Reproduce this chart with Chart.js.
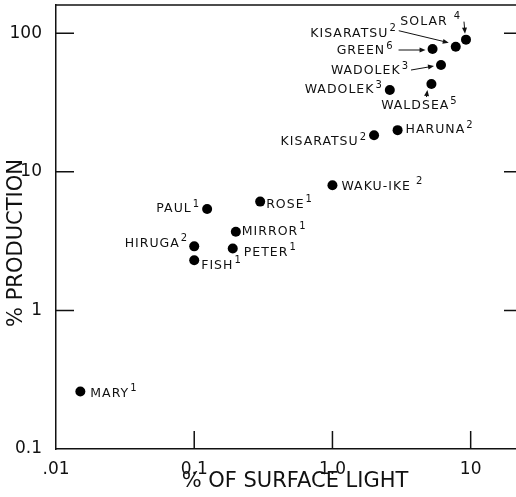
<!DOCTYPE html>
<html lang="en">
<head>
<meta charset="utf-8" />
<title>% production vs % of surface light</title>
<script src="https://cdn.jsdelivr.net/npm/chart.js@4.4.0/dist/chart.umd.min.js"></script>
<style>
  html, body { margin: 0; padding: 0; background: #fff; overflow: hidden; }
  .wrap { width: 523px; height: 497px; }
</style>
</head>
<body>
<div class="wrap"><canvas id="chart" width="523" height="497"></canvas></div>
<script>
// values
const lakes = ['MARY', 'FISH', 'HIRUGA', 'PAUL', 'PETER', 'MIRROR', 'ROSE', 'WAKU-IKE',
  'KISARATSU', 'HARUNA', 'WADOLEK', 'WALDSEA', 'WADOLEK', 'GREEN', 'KISARATSU', 'SOLAR'];
const refs = ['1', '1', '2', '1', '1', '1', '1', '2', '2', '2', '3', '5', '3', '6', '2', '4'];
const surfaceLight = [0.015, 0.1, 0.1, 0.124, 0.19, 0.2, 0.3, 1.0, 2.0, 2.96, 2.6, 5.2, 6.1, 5.3, 7.8, 9.25];
const production = [0.26, 2.3, 2.9, 5.4, 2.8, 3.7, 6.1, 8.0, 18.4, 20, 39, 43, 59, 77, 80, 90];

const xTicks = [0.01, 0.1, 1, 10];
const xTickLabels = ['.01', '0.1', '1.0', '10'];
const yTicks = [0.1, 1, 10, 100];
const yTickLabels = ['0.1', '1', '10', '100'];

const FONT = 'DejaVu Sans';

// where each name sits relative to its dot: [align, dx, dy, gap before superscript]
const labelPlace = [
  ['left', 10, 2, 1], ['left', 7, 5, 1], ['right', -6, -3, 1], ['right', -7, 0, 1],
  ['left', 11, 4, 1], ['left', 6, 0, 1], ['left', 6, 3, 1], ['left', 9, 1, 5],
  ['right', -7, 7, 1], ['left', 8, 0, 1], ['right', -7, 0, 1], ['center', -12, 22, 1],
  ['right', -32, 6, 1], ['right', -39, 2, 1], ['right', -59, -13, 1], ['right', -5, -18, 6]
];
// arrows from label to dot, relative to the dot
const arrows = {
  11: [-5, 13, -4, 6],
  12: [-30, 5, -7, 1],
  13: [-34, 1, -7, 1],
  14: [-57, -16, -7, -4],
  15: [-2, -18, -1, -6]
};

function drawLabel(ctx, name, sup, x, y, align, gap) {
  ctx.letterSpacing = '1px';
  ctx.font = '12.5px "' + FONT + '"';
  const w1 = ctx.measureText(name).width;
  ctx.font = '10px "' + FONT + '"';
  const w2 = ctx.measureText(sup).width;
  const total = w1 + gap + w2;
  let sx = x;
  if (align === 'right') sx = x - total;
  if (align === 'center') sx = x - total / 2;
  ctx.textAlign = 'left';
  ctx.textBaseline = 'middle';
  ctx.font = '12.5px "' + FONT + '"';
  ctx.fillText(name, sx, y);
  ctx.font = '10px "' + FONT + '"';
  ctx.fillText(sup, sx + w1 + gap, y - 5);
  ctx.letterSpacing = '0px';
}

function drawArrow(ctx, x1, y1, x2, y2) {
  const a = Math.atan2(y2 - y1, x2 - x1);
  ctx.beginPath();
  ctx.moveTo(x1, y1);
  ctx.lineTo(x2 - 3 * Math.cos(a), y2 - 3 * Math.sin(a));
  ctx.stroke();
  ctx.beginPath();
  ctx.moveTo(x2, y2);
  ctx.lineTo(x2 - 6 * Math.cos(a) + 2.5 * Math.sin(a), y2 - 6 * Math.sin(a) - 2.5 * Math.cos(a));
  ctx.lineTo(x2 - 6 * Math.cos(a) - 2.5 * Math.sin(a), y2 - 6 * Math.sin(a) + 2.5 * Math.cos(a));
  ctx.closePath();
  ctx.fill();
}

const decor = {
  id: 'decor',
  afterDraw(chart) {
    const ctx = chart.ctx;
    const area = chart.chartArea;
    const xs = chart.scales.x, ys = chart.scales.y;
    ctx.save();
    ctx.strokeStyle = '#111';
    ctx.fillStyle = '#111';
    ctx.lineWidth = 1.5;

    // top frame line
    ctx.beginPath();
    ctx.moveTo(area.left, area.top);
    ctx.lineTo(area.right, area.top);
    ctx.stroke();

    // inward tick marks
    yTicks.slice(1).forEach(v => {
      const py = ys.getPixelForValue(v);
      ctx.beginPath();
      ctx.moveTo(area.left, py); ctx.lineTo(area.left + 18, py);
      ctx.moveTo(area.right, py); ctx.lineTo(area.right - 14, py);
      ctx.stroke();
    });
    xTicks.slice(1).forEach(v => {
      const px = xs.getPixelForValue(v);
      ctx.beginPath();
      ctx.moveTo(px, area.bottom); ctx.lineTo(px, area.bottom - 18);
      ctx.stroke();
    });

    // point names with reference numbers
    ctx.lineWidth = 1;
    lakes.forEach((name, i) => {
      const px = xs.getPixelForValue(surfaceLight[i]);
      const py = ys.getPixelForValue(production[i]);
      const p = labelPlace[i];
      drawLabel(ctx, name, refs[i], px + p[1], py + p[2], p[0], p[3]);
      const ar = arrows[i];
      if (ar) drawArrow(ctx, px + ar[0], py + ar[1], px + ar[2], py + ar[3]);
    });

    // axis titles
    ctx.font = '21px "' + FONT + '"';
    ctx.textAlign = 'center';
    ctx.textBaseline = 'middle';
    ctx.fillText('% OF SURFACE LIGHT', 295, 482);
    ctx.translate(17, 243);
    ctx.rotate(-Math.PI / 2);
    ctx.fillText('% PRODUCTION', 0, 0);
    ctx.restore();
  }
};

new Chart(document.getElementById('chart'), {
  type: 'scatter',
  data: {
    datasets: [{
      data: surfaceLight.map((x, i) => ({ x: x, y: production[i] })),
      pointRadius: 5,
      pointHoverRadius: 5,
      backgroundColor: '#000',
      borderColor: '#000',
      borderWidth: 0
    }]
  },
  options: {
    responsive: false,
    animation: false,
    devicePixelRatio: 1,
    layout: { padding: { top: 5, right: 1, left: 0, bottom: 0 } },
    plugins: { legend: { display: false }, tooltip: { enabled: false } },
    scales: {
      x: {
        type: 'logarithmic',
        min: 0.01,
        max: 22,
        afterBuildTicks: s => { s.ticks = xTicks.map(v => ({ value: v })); },
        afterFit: s => { s.height = 48; s.paddingLeft = 0; s.paddingRight = 0; },
        ticks: {
          callback: (v, i) => xTickLabels[i],
          font: { family: FONT, size: 17 },
          color: '#111',
          padding: 2,
          maxRotation: 0,
          autoSkip: false
        },
        grid: { display: false },
        border: { display: true, color: '#111', width: 1.5 }
      },
      y: {
        type: 'logarithmic',
        min: 0.1,
        max: 160,
        afterBuildTicks: s => { s.ticks = yTicks.map(v => ({ value: v })); },
        afterFit: s => { s.width = 56; s.paddingTop = 0; s.paddingBottom = 0; },
        ticks: {
          callback: (v, i) => yTickLabels[i],
          font: { family: FONT, size: 17 },
          color: '#111',
          padding: 6,
          autoSkip: false
        },
        grid: { display: false },
        border: { display: true, color: '#111', width: 1.5 }
      }
    }
  },
  plugins: [decor]
});
</script>
</body>
</html>
